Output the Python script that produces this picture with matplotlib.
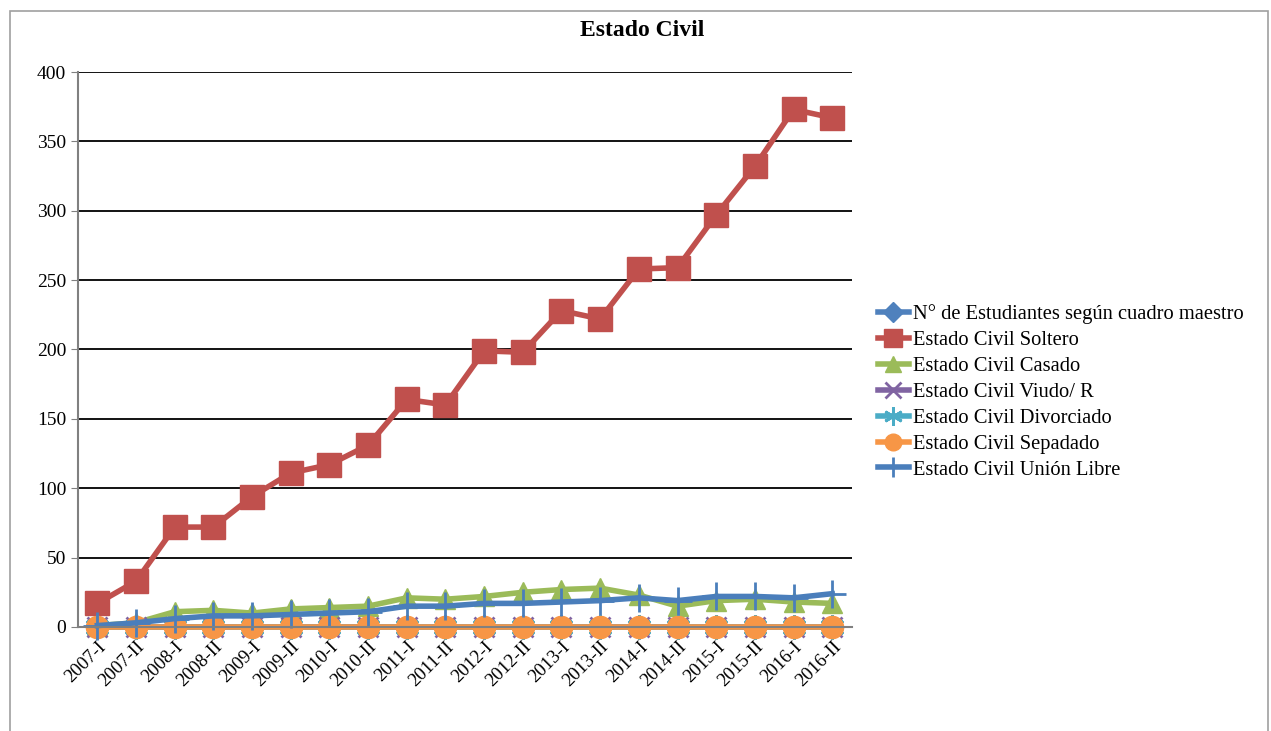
import matplotlib.pyplot as plt
import numpy as np
from matplotlib.patches import Rectangle

periodos = ["2007-I", "2007-II", "2008-I", "2008-II", "2009-I", "2009-II",
            "2010-I", "2010-II", "2011-I", "2011-II", "2012-I", "2012-II",
            "2013-I", "2013-II", "2014-I", "2014-II", "2015-I", "2015-II",
            "2016-I", "2016-II"]

n_estudiantes = [np.nan] * 20   # not drawn in the original, legend only
soltero = [17, 33, 72, 72, 94, 111, 117, 131, 164, 160,
           199, 198, 228, 222, 258, 259, 297, 332, 373, 367]
casado = [1, 3, 11, 12, 10, 13, 14, 15, 21, 20,
          22, 25, 27, 28, 23, 15, 19, 20, 18, 17]
viudo = [0] * 20
divorciado = [0] * 20
sepadado = [0] * 20
union_libre = [1, 3, 6, 8, 8, 9, 10, 11, 15, 15,
               17, 17, 18, 19, 21, 19, 22, 22, 21, 24]

series = [
    ("N° de Estudiantes según cuadro maestro", n_estudiantes, "#4F81BD", "D", 13),
    ("Estado Civil Soltero", soltero, "#C0504D", "s", 17),
    ("Estado Civil Casado", casado, "#9BBB59", "^", 15),
    ("Estado Civil Viudo/ R", viudo, "#8064A2", "x", 15),
    ("Estado Civil Divorciado", divorciado, "#4BACC6", (6, 2, 0), 18),
    ("Estado Civil Sepadado", sepadado, "#F79646", "o", 16),
    ("Estado Civil Unión Libre", union_libre, "#4A7EBB", "+", 20),
]

plt.rcParams["font.family"] = ["Liberation Serif", "DejaVu Serif"]

fig = plt.figure(figsize=(12.71, 7.31), dpi=100)
ax = fig.add_axes([0.0614, 0.1423, 0.6086, 0.7592])

x = np.arange(len(periodos))
for name, vals, color, mk, ms in series:
    thin = mk in ("x", "+") or isinstance(mk, tuple)
    ax.plot(x, vals, color=color, lw=4, marker=mk, markersize=ms,
            markeredgewidth=2 if thin else 1, markeredgecolor=color,
            label=name, solid_joinstyle="round", clip_on=False)

ax.set_xlim(-0.5, len(periodos) - 0.5)
ax.set_ylim(0, 400)
ax.set_yticks(np.arange(0, 401, 50))
ax.yaxis.grid(True, color="black", lw=1.3)
ax.set_axisbelow(True)
ax.set_xticks(x)
ax.set_xticklabels(periodos, rotation=45, ha="right", rotation_mode="anchor",
                   fontsize=13.5)
ax.tick_params(axis="y", labelsize=14, length=5, color="#808080")
ax.tick_params(axis="x", length=0, pad=8)
for s in ("top", "right"):
    ax.spines[s].set_visible(False)
ax.spines["left"].set_color("#808080")
ax.spines["left"].set_linewidth(1.5)
ax.spines["bottom"].set_color("#808080")
ax.spines["bottom"].set_linewidth(1.5)

fig.text(0.505, 0.958, "Estado Civil", ha="center", va="center",
         fontsize=17, fontweight="bold")

ax.legend(loc="center left", bbox_to_anchor=(0.676, 0.464),
          bbox_transform=fig.transFigure, frameon=False, fontsize=14.8,
          handlelength=1.5, handletextpad=0.2, labelspacing=0.32,
          markerscale=0.75)

fig.patches.append(Rectangle((0.008, -0.01), 0.99, 0.995, transform=fig.transFigure,
                             fill=False, edgecolor="#a0a0a0", lw=1.2))

fig.savefig("out.png", dpi=100)
